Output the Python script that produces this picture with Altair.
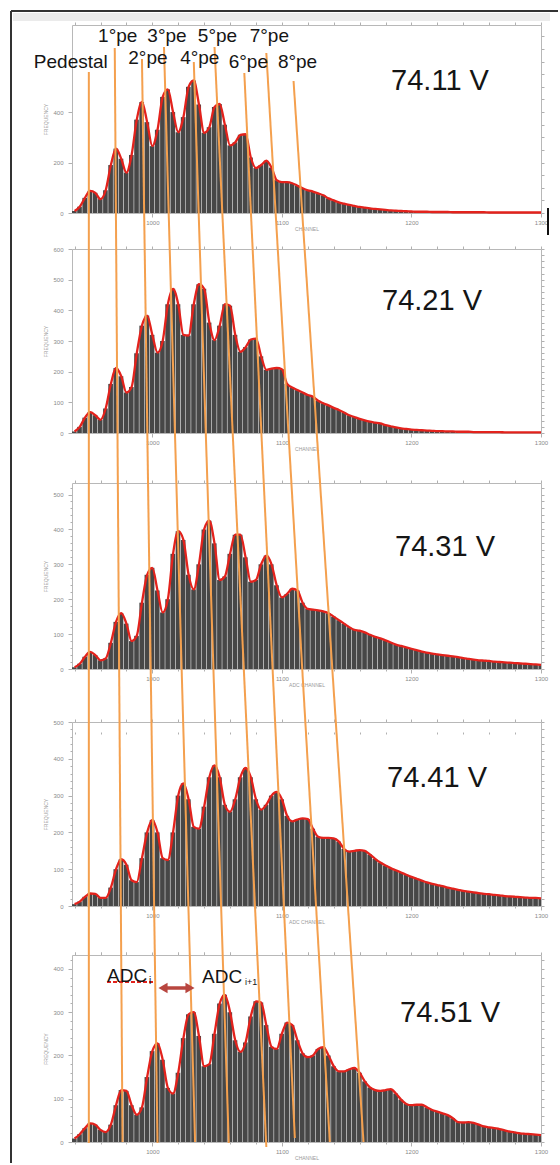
import altair as alt
import pandas as pd

# ---------------- data ----------------
CHANNELS = list(range(940, 1301, 4))  # ADC channel (bin centres)
VOLTAGES = ["74.11 V", "74.21 V", "74.31 V", "74.41 V", "74.51 V"]

COUNTS_7411 = [8, 25, 60, 88, 80, 55, 90, 190, 255, 215, 160, 230, 370, 440, 360, 265,
               330, 460, 490, 400, 320, 380, 500, 525, 430, 318, 340, 420, 432, 350, 268,
               280, 310, 312, 220, 178, 190, 207, 180, 130, 122, 122, 118, 108, 98, 90, 85,
               78, 70, 58, 50, 42, 37, 32, 28, 24, 21, 18, 16, 14, 12, 10, 9, 8, 7, 6,
               5, 5, 5, 4, 4, 4, 4, 3, 3, 3, 3, 3, 3, 3, 2, 2, 2, 2, 2, 2, 2, 2, 2, 2, 2]
COUNTS_7421 = [5, 20, 50, 68, 58, 43, 80, 160, 212, 185, 132, 150, 260, 350, 383, 320,
               262, 300, 420, 470, 420, 320, 318, 420, 485, 470, 360, 303, 350, 420, 415,
               320, 265, 280, 305, 308, 250, 206, 210, 212, 208, 160, 148, 140, 132, 124,
               118, 105, 97, 90, 82, 75, 67, 58, 52, 46, 41, 37, 34, 31, 26, 22, 18, 15,
               13, 11, 10, 9, 8, 7, 6, 6, 5, 5, 4, 4,
               4, 3, 3, 3, 3, 3, 3, 2, 2, 2, 2, 2, 2, 2, 2]
COUNTS_7431 = [5, 15, 35, 49, 40, 25, 30, 75, 135, 160, 130, 80, 95, 190, 270, 290, 225,
               162, 200, 330, 395, 370, 270, 228, 300, 400, 425, 360, 255, 265, 330, 385,
               385, 320, 250, 255, 300, 325, 300, 240, 205, 215, 230, 225, 190, 172, 170,
               168, 165, 160, 150, 140, 130, 120, 112, 110, 105, 98, 92, 88, 82, 76, 70,
               66, 62, 58, 54, 50, 47, 44, 42, 40, 38, 36, 34, 31, 29, 27, 25, 24, 23, 21,
               20, 19, 18, 17, 16, 15, 14, 13, 12]
COUNTS_7441 = [5, 12, 25, 34, 33, 22, 22, 50, 100, 127, 112, 70, 65, 130, 200, 234, 200,
               130, 125, 200, 300, 333, 290, 215, 210, 270, 350, 382, 350, 275, 256, 290,
               350, 375, 350, 290, 262, 275, 300, 310, 290, 245, 230, 235, 238, 236, 210,
               188, 185, 185, 184, 175, 155, 148, 150, 152, 150, 140, 128, 118, 110, 103,
               97, 91, 85, 79, 74, 69, 64, 60, 57, 54, 50, 47, 44, 41, 39, 37, 35, 33, 32,
               30, 29, 27, 26, 25, 24, 23, 22, 22, 21]
COUNTS_7451 = [8, 18, 32, 43, 40, 28, 23, 40, 85, 120, 118, 85, 63, 80, 150, 210, 228,
               190, 125, 112, 160, 240, 295, 300, 245, 175, 180, 250, 320, 340, 300, 235,
               208, 230, 290, 325, 322, 270, 220, 215, 250, 276, 270, 235, 205, 196, 200,
               215, 219, 200, 175, 163, 163, 168, 171, 160, 140, 126, 120, 118, 120, 122,
               112, 98, 88, 85, 86, 86, 80, 74, 70, 66, 62, 55, 46, 45, 46, 44, 40, 36, 34,
               32, 30, 27, 24, 22, 20, 19, 18, 17, 16]
COUNTS = [COUNTS_7411, COUNTS_7421, COUNTS_7431, COUNTS_7441, COUNTS_7451]

X_DOMAIN = [938, 1300]
X_TICKS = [1000, 1100, 1200, 1300]
X_TITLES = ["CHANNEL", "CHANNEL", "ADC CHANNEL", "ADC CHANNEL", "CHANNEL"]
Y_MAX = [745, 600, 533, 500, 432]
Y_MAJOR = [[0, 200, 400], [0, 100, 200, 300, 400, 500, 600], [0, 100, 200, 300, 400, 500],
           [0, 100, 200, 300, 400, 500], [0, 100, 200, 300, 400]]
Y_MINOR_STEP = [50, 20, 20, 20, 20]

PEAK_LABELS = ["Pedestal", "1°pe", "2°pe", "3°pe", "4°pe", "5°pe", "6°pe", "7°pe", "8°pe"]
LABEL_ROWS = ["pedestal", "upper", "middle", "upper", "middle", "upper", "lower", "upper", "lower"]
# ADC channel of each guide line at its top end (74.11 V) and bottom end (74.51 V)
LINE_TOP_ADC = [951, 971, 992, 1009, 1032, 1048, 1071, 1088, 1109]
LINE_BOTTOM_ADC = [951, 977, 1004, 1033, 1059, 1088, 1110, 1137, 1163]

# ---------------- layout (pixels, relative to the plot origin) ----------------
FONT = "Liberation Sans"
W = 469
BOX_TOP = [0, 224, 458, 697, 930]
BOX_BOTTOM = [188, 408, 644, 881, 1117]
H = BOX_BOTTOM[-1]
LINE_TOP_Y = [47, 23, 34, 22, 37, 22, 48, 28, 56]
LINE_BOTTOM_Y = [1118, 1117, 1118, 1117, 1118, 1122, 1113, 1117, 1117]
VOLT_POS = [(368, 65), (360, 285), (373, 531), (365, 762), (378, 997)]
ROW_BASELINE = {"upper": 17, "middle": 39, "lower": 43, "pedestal": 43}
ROW_DX = {"upper": 3, "middle": 6, "lower": 4, "pedestal": -18}

ONE = pd.DataFrame({"a": [0]})
XS = alt.Scale(domain=X_DOMAIN, nice=False, zero=False)


def panel(k):
    top, bot, ymax = BOX_TOP[k], BOX_BOTTOM[k], Y_MAX[k]
    df = pd.DataFrame({"ch": CHANNELS, "count": COUNTS[k]})
    df["x0"] = df["ch"] - 2
    df["x1"] = df["ch"] + 1.6
    ys = alt.Scale(domain=[0, ymax], range=[bot, top], nice=False, zero=True)
    major_y = Y_MAJOR[k]
    minor_y = [v for v in range(0, ymax + 1, Y_MINOR_STEP[k]) if v not in major_y]
    minor_x = [v for v in range(940, 1301, 20) if v not in X_TICKS]
    off_b = bot - H
    base = alt.Chart(df)

    bars = base.mark_rect(color="#474747", clip=True).encode(
        x=alt.X("x0:Q", scale=XS,
                axis=alt.Axis(values=X_TICKS, format="d", title=X_TITLES[k], tickSize=4,
                              labelPadding=2, titlePadding=1, offset=off_b)),
        x2="x1:Q",
        y=alt.Y("count:Q", scale=ys,
                axis=alt.Axis(values=major_y, format="d", title="FREQUENCY", tickSize=4,
                              labelPadding=5, titlePadding=4)),
        y2=alt.datum(0),
    )
    line = base.mark_line(color="#e3221c", strokeWidth=2.3, interpolate="monotone").encode(
        x=alt.X("ch:Q", scale=XS, axis=None),
        y=alt.Y("count:Q", scale=ys, axis=None),
    )
    minor = base.mark_line(strokeOpacity=0).encode(
        x=alt.X("ch:Q", scale=XS, axis=alt.Axis(values=minor_x, labels=False, domain=False,
                                                tickSize=2, title=None, offset=off_b)),
        y=alt.Y("count:Q", scale=ys, axis=alt.Axis(values=minor_y, labels=False, domain=False,
                                                   tickSize=2, title=None)),
    )
    mirror = base.mark_line(strokeOpacity=0).encode(
        x=alt.X("ch:Q", scale=XS, axis=alt.Axis(orient="top", values=sorted(X_TICKS + minor_x),
                                                labels=False, tickSize=3, title=None,
                                                offset=-top)),
        y=alt.Y("count:Q", scale=ys, axis=alt.Axis(orient="right", values=sorted(major_y + minor_y),
                                                   labels=False, tickSize=3, title=None)),
    )
    return alt.layer(bars, line, minor, mirror).resolve_axis(x="independent", y="independent")


def text_at(t, x, y, size, align="left"):
    return alt.Chart(pd.DataFrame({"t": [t]})).mark_text(
        font=FONT, fontSize=size, align=align, baseline="alphabetic", color="#151515"
    ).encode(text="t:N", x=alt.value(x), y=alt.value(y))


# frame of the whole figure
frame_left = alt.Chart(ONE).mark_rule(color="#333333", strokeWidth=2).encode(
    x=alt.value(-61), y=alt.value(-14), y2=alt.value(1138))
frame_top = alt.Chart(ONE).mark_rule(color="#333333", strokeWidth=2).encode(
    x=alt.value(-61), x2=alt.value(486), y=alt.value(-14))
band = alt.Chart(ONE).mark_rect(color="#ebebeb").encode(
    x=alt.value(-59), x2=alt.value(478), y=alt.value(-12), y2=alt.value(-4))
black_tick = alt.Chart(ONE).mark_rule(color="#111111", strokeWidth=2).encode(
    x=alt.value(476), y=alt.value(183), y2=alt.value(210))

panels = [panel(k) for k in range(5)]

odf = pd.DataFrame({"x_top": LINE_TOP_ADC, "x_bot": LINE_BOTTOM_ADC,
                    "y_top": LINE_TOP_Y, "y_bot": LINE_BOTTOM_Y})
orange = alt.Chart(odf).mark_rule(color="#f4a04e", strokeWidth=2, clip=False).encode(
    x=alt.X("x_top:Q", scale=XS, axis=None), x2="x_bot:Q",
    y=alt.Y("y_top:Q", scale=None, axis=None), y2="y_bot:Q")

lab_df = pd.DataFrame({"label": PEAK_LABELS, "x": LINE_TOP_ADC, "row": LABEL_ROWS})
peak_texts = []
for row in ["pedestal", "upper", "middle", "lower"]:
    peak_texts.append(
        alt.Chart(lab_df).transform_filter(alt.datum.row == row).mark_text(
            font=FONT, fontSize=19, align="center", baseline="alphabetic",
            color="#151515", dx=ROW_DX[row]
        ).encode(x=alt.X("x:Q", scale=XS, axis=None), y=alt.value(ROW_BASELINE[row]),
                 text="label:N")
    )

# ADC_i <-> ADC_i+1 annotation in the last panel
underline = alt.Chart(ONE).mark_rule(color="#e3221c", strokeWidth=2, strokeDash=[4, 2]).encode(
    x=alt.value(35), x2=alt.value(82), y=alt.value(957))
adc_texts = [text_at("ADC", 35, 957, 19), text_at("i", 77, 959, 10),
             text_at("ADC", 130, 958, 19), text_at("i+1", 173, 960, 9)]
shaft = alt.Chart(ONE).mark_rule(color="#b8463f", strokeWidth=3.5).encode(
    x=alt.value(92), x2=alt.value(117), y=alt.value(963))
head_l = alt.Chart(ONE).mark_point(shape="triangle-left", filled=True, size=110,
                                   color="#b8463f", opacity=1).encode(
    x=alt.value(91), y=alt.value(963))
head_r = alt.Chart(ONE).mark_point(shape="triangle-right", filled=True, size=110,
                                   color="#b8463f", opacity=1).encode(
    x=alt.value(118), y=alt.value(963))

volt_texts = [text_at(VOLTAGES[k], VOLT_POS[k][0], VOLT_POS[k][1], 29, align="center")
              for k in range(5)]

chart = alt.layer(
    band, frame_left, frame_top, *panels, black_tick, orange, *peak_texts,
    underline, *adc_texts, shaft, head_l, head_r, *volt_texts
).resolve_scale(y="independent").resolve_axis(x="independent", y="independent").properties(
    width=W, height=H,
    padding={"left": 10, "top": 10, "right": 0, "bottom": 0},
    background="white",
).configure_view(stroke="transparent").configure_axis(
    labelFont=FONT, titleFont=FONT, labelFontSize=6, titleFontSize=5,
    labelColor="#8a8a8a", titleColor="#9a9a9a", tickColor="#b0b0b0",
    domainColor="#b8b8b8", grid=False, labelFlush=False, titleFontWeight="normal",
)

chart.save("out.html", embed_options={"renderer": "svg", "actions": False})
